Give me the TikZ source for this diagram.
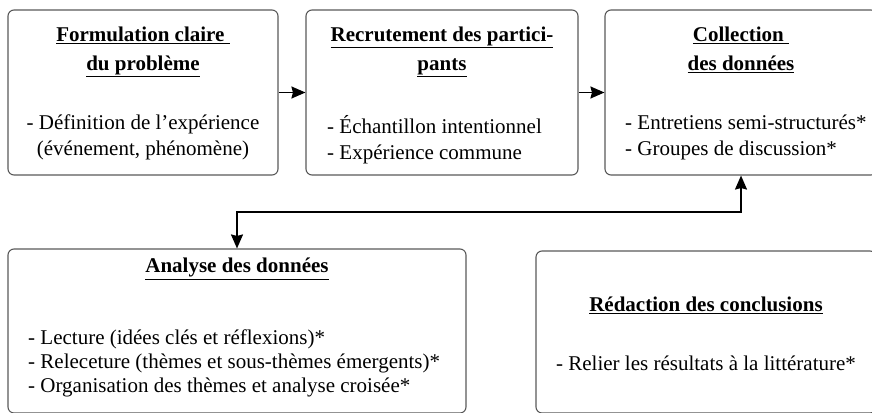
\documentclass[tikz,border=0pt]{standalone}
\usepackage{fontspec}
\setmainfont{Liberation Serif}
\usetikzlibrary{arrows.meta}

\tikzset{
  pointe/.tip={Stealth[length=14pt, width=12pt, inset=1.5pt]},
  boite/.style={draw=black!65, line width=1.1pt, rounded corners=6pt, inner sep=0pt},
  titre/.style={font=\fontsize{21}{29}\selectfont\bfseries, align=center, anchor=north, inner sep=0pt},
  liste/.style={font=\fontsize{21}{26}\selectfont, anchor=north, inner sep=0pt},
  fleche/.style={line width=1.6pt, -pointe}
}

\begin{document}
\begin{tikzpicture}[x=1pt, y=-1pt]
  \useasboundingbox (0,0) rectangle (872,412);
  % boites
  \node [boite, minimum width=270, minimum height=165] (formulation) at (143,92.5) {};
  \node [boite, minimum width=272, minimum height=165] (recrutement) at (442,92.5) {};
  \node [boite, minimum width=272, minimum height=165] (collection) at (741,92.5) {};
  \node [boite, minimum width=458, minimum height=164] (analyse) at (237,331) {};
  \node [boite, minimum width=340, minimum height=162] (redaction) at (706,332) {};
  % textes
  \node [titre] (formulationT) at (143,27) {\underline{Formulation claire\ }\\\underline{du problème}};
  \node [liste, align=center] (formulationL) at (143,115) {- Définition de l’expérience\\(événement, phénomène)};
  \node [titre] (recrutementT) at (442,27) {\underline{Recrutement des partici-}\\\underline{pants}};
  \node [liste, align=left, anchor=north west] (recrutementL) at (327,115) {- Échantillon intentionnel\\- Expérience commune};
  \node [titre] (collectionT) at (741,27) {\underline{Collection\ }\\\underline{des données}};
  \node [liste, align=left, anchor=north west] (collectionL) at (625,115) {- Entretiens semi-structurés*\\- Groupes de discussion*};
  \node [titre] (analyseT) at (237,258) {\underline{Analyse des données}};
  \node [liste, align=left, anchor=north west, font=\fontsize{21}{24}\selectfont] (analyseL) at (28,330) {- Lecture (idées clés et réflexions)*\\- Releceture (thèmes et sous-thèmes émergents)*\\- Organisation des thèmes et analyse croisée*};
  \node [titre] (redactionT) at (706,297) {\underline{Rédaction des conclusions}};
  \node [liste] (redactionL) at (706,356) {- Relier les résultats à la littérature*};
  % fleches
  \draw [fleche] (formulation) -- (recrutement);
  \draw [fleche] (recrutement) -- (collection);
  \coordinate (coude) at (741,212);
  \draw [fleche, pointe-pointe] (analyse.north) |- (coude) -- (collection.south);
\end{tikzpicture}
\end{document}
